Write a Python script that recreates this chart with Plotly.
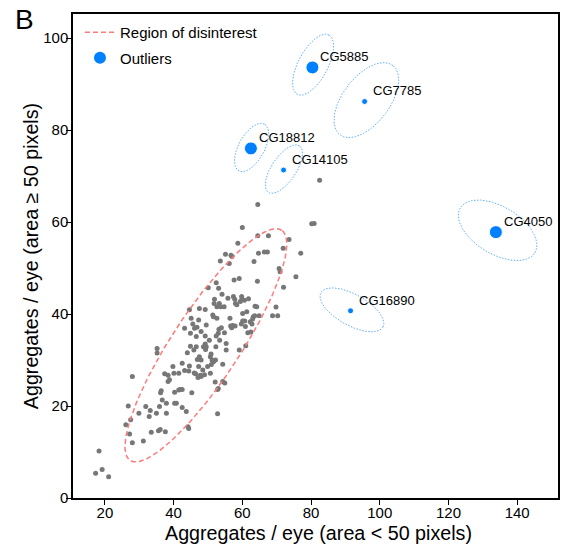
import numpy as np
import plotly.graph_objects as go

# ---- data: genes (grey) ----
gene_x = [17.3, 18.3, 19.2, 21.1, 26.1, 26.8, 27.5, 27.2, 28.0, 28.0, 29.9, 31.2, 31.9, 32.9, 33.2, 33.5,
          35.0, 35.2, 35.2, 35.6, 36.1, 35.9, 36.2, 36.4, 36.7, 37.6, 37.9, 37.9, 37.4, 38.4, 38.4, 38.8,
          39.8, 40.1, 40.3, 40.3, 40.8, 41.5, 41.5, 41.9, 42.5, 42.5, 42.5, 43.2, 43.2, 43.7, 44.0, 44.2,
          44.4, 44.4, 44.6, 44.6, 44.9, 44.9, 45.1, 45.3, 45.6, 45.9, 46.0, 46.1, 46.4, 46.6, 46.6, 46.8,
          46.9, 47.1, 47.3, 47.5, 47.5, 47.8, 48.0, 48.5, 48.7, 49.2, 49.2, 49.2, 49.5, 49.5, 49.9, 50.1,
          50.4, 50.7, 50.7, 50.9, 51.2, 51.6, 51.4, 51.0, 51.6, 51.8, 51.9, 52.1, 52.3, 52.4, 52.4, 52.6,
          52.8, 52.8, 53.0, 53.1, 53.2, 53.3, 53.4, 53.6, 53.7, 53.9, 54.1, 54.3, 54.3, 54.9, 54.7, 54.8,
          55.1, 55.3, 55.3, 55.8, 56.2, 56.4, 56.6, 56.7, 56.9, 57.0, 57.2, 57.4, 57.6, 57.8, 57.9, 58.0,
          58.4, 58.7, 59.1, 59.1, 59.4, 59.7, 59.8, 59.9, 60.0, 60.1, 60.1, 60.7, 60.9, 61.0, 61.3, 61.6,
          61.8, 62.5, 62.3, 63.0, 63.2, 63.4, 63.6, 63.7, 64.2, 64.4, 64.5, 64.5, 64.7, 64.9, 66.4, 67.3,
          67.6, 68.8, 69.8, 70.3, 70.7, 71.0, 71.9, 72.0, 73.6, 75.6, 77.0, 80.2, 80.9, 82.5,
          47.3, 52.6, 53.0, 48.0, 49.3, 52.2, 48.0, 49.0, 60.6, 62.8]
gene_y = [5.4, 10.2, 6.2, 4.6, 15.9, 20.0, 17.0, 13.9, 12.0, 26.4, 18.4, 12.4, 19.9, 17.7, 19.0, 14.3,
          18.4, 32.5, 31.5, 14.6, 14.9, 19.9, 22.9, 23.3, 21.3, 14.4, 18.4, 20.6, 27.0, 26.7, 25.3, 25.7,
          28.6, 27.1, 23.0, 20.6, 20.6, 27.1, 23.5, 23.6, 23.6, 29.3, 19.7, 27.7, 36.9, 18.8, 31.6, 15.5,
          27.6, 15.1, 28.7, 40.9, 33.0, 35.8, 39.1, 22.9, 37.8, 32.2, 27.2, 36.9, 27.0, 35.1, 32.9, 37.1,
          30.1, 26.2, 28.6, 30.7, 41.2, 26.7, 26.4, 27.8, 32.9, 35.2, 41.0, 33.5, 32.9, 37.6, 28.6, 45.7,
          34.3, 27.1, 30.7, 31.3, 30.0, 29.6, 39.8, 29.0, 39.4, 42.3, 43.2, 25.2, 32.9, 35.2, 46.8, 41.6,
          23.6, 18.3, 23.8, 45.6, 36.7, 42.3, 34.3, 51.5, 41.6, 37.0, 44.3, 29.1, 25.3, 25.0, 41.6, 35.9,
          53.0, 33.6, 32.2, 43.4, 51.0, 39.1, 37.4, 52.8, 37.0, 52.5, 37.5, 43.8, 47.4, 43.2, 37.4, 42.3,
          42.0, 55.4, 32.2, 47.7, 42.7, 37.8, 43.8, 43.2, 58.8, 40.1, 38.5, 38.5, 37.3, 33.1, 40.5, 35.9,
          43.3, 36.1, 38.3, 38.9, 39.4, 51.4, 39.6, 41.7, 41.6, 47.1, 57.0, 63.8, 53.2, 39.6, 53.5, 53.5,
          57.0, 39.6, 41.5, 39.6, 49.9, 49.2, 54.3, 45.8, 56.2, 48.1, 53.2, 59.6, 59.7, 69.1,
          38.7, 39.1, 35.8, 36.2, 32.3, 30.0, 30.0, 26.8, 43.0, 37.8]

# ---- data: outliers ----
outlier_names = ["CG5885", "CG7785", "CG18812", "CG14105", "CG4050", "CG16890"]
outlier_x = [80.4, 95.6, 62.5, 72.0, 133.8, 91.5]
outlier_y = [93.6, 86.2, 76.0, 71.3, 57.8, 40.7]
outlier_size = [13, 6, 13, 6, 13, 6]

# ---- ellipses (centre in data units, semi-axes in screen px, angle in degrees) ----
ell_cx = [80.6, 96.1, 62.7, 72.1, 134.3, 91.9]
ell_cy = [94.2, 86.5, 76.2, 71.5, 58.2, 40.9]
ell_a = [33.7, 43.7, 26.7, 28.0, 43.7, 35.6]
ell_b = [14.9, 23.5, 13.0, 12.4, 23.8, 15.6]
ell_ang = [61.7, 52.5, 61.1, 56.0, -30.7, -29.0]

region_cx, region_cy, region_a, region_b, region_ang = 49.4, 33.2, 138.0, 34.0, 56.5

x_ticks = [20, 40, 60, 80, 100, 120, 140]
y_ticks = [0, 20, 40, 60, 80, 100]

x_title = "Aggregates / eye (area < 50 pixels)"
y_title = "Aggregates / eye (area ≥ 50 pixels)"

# ---- layout geometry ----
W, H = 568, 550
ML, MR, MT, MB = 73, 8, 14, 52
PW, PH = W - ML - MR, H - MT - MB
x_range = [10.72, 151.88]
y_range = [0.0, 105.22]
SX = PW / (x_range[1] - x_range[0])
SY = PH / (y_range[1] - y_range[0])


def px_to_paper_x(px):
    return (px - ML) / PW


def px_to_paper_y(py):
    return (MT + PH - py) / PH


def ellipse(cx, cy, a, b, ang, n=200):
    t = np.linspace(0, 2 * np.pi, n)
    th = np.deg2rad(ang)
    dx = a * np.cos(t) * np.cos(th) - b * np.sin(t) * np.sin(th)
    dy = a * np.cos(t) * np.sin(th) + b * np.sin(t) * np.cos(th)
    return cx + dx / SX, cy + dy / SY


BLUE = "#0080ff"
GREY = "#777777"
RED = "#ff7a7a"
LBLUE = "#5fb0ff"
FONT = "Liberation Sans, Arial, sans-serif"

fig = go.Figure()

fig.add_trace(go.Scatter(x=gene_x, y=gene_y, mode="markers",
                         marker=dict(color=GREY, size=5), showlegend=False, hoverinfo="skip"))

rx, ry = ellipse(region_cx, region_cy, region_a, region_b, region_ang)
fig.add_trace(go.Scatter(x=rx, y=ry, mode="lines", name="Region of disinterest",
                         line=dict(color=RED, width=1.5, dash="5px,3px"), legendgroup="a"))

for i in range(len(ell_cx)):
    ex, ey = ellipse(ell_cx[i], ell_cy[i], ell_a[i], ell_b[i], ell_ang[i])
    fig.add_trace(go.Scatter(x=ex, y=ey, mode="lines", showlegend=False,
                             line=dict(color=LBLUE, width=1, dash="1.5px,1.5px"), hoverinfo="skip"))

fig.add_trace(go.Scatter(x=outlier_x, y=outlier_y, mode="markers", showlegend=False,
                         marker=dict(color=BLUE, size=outlier_size, opacity=1), text=outlier_names))
fig.add_trace(go.Scatter(x=[None], y=[None], mode="markers", name="Outliers",
                         marker=dict(color=BLUE, size=12, opacity=1), legendgroup="b"))

for n, xv, yv in zip(outlier_names, outlier_x, outlier_y):
    fig.add_annotation(x=xv, y=yv, text=n, showarrow=False, xanchor="left", yanchor="middle",
                       xshift=6, yshift=10.5, font=dict(size=13, color="black", family=FONT))

# panel letter
fig.add_annotation(xref="paper", yref="paper", x=px_to_paper_x(13), y=px_to_paper_y(19),
                   text="B", showarrow=False, xanchor="left", yanchor="middle",
                   font=dict(size=28, color="black", family=FONT))
# axis titles
fig.add_annotation(xref="paper", yref="paper", x=px_to_paper_x(320), y=px_to_paper_y(533),
                   text=x_title, showarrow=False, xanchor="center", yanchor="middle",
                   font=dict(size=19.7, color="black", family=FONT))
fig.add_annotation(xref="paper", yref="paper", x=px_to_paper_x(31), y=0.5, textangle=-90,
                   text=y_title, showarrow=False, xanchor="center", yanchor="middle",
                   font=dict(size=19.7, color="black", family=FONT))

axis_common = dict(showgrid=False, zeroline=False, showline=True, linecolor="black", linewidth=1.5,
                   mirror=True, ticks="outside", ticklen=5, tickwidth=1.2, tickcolor="black",
                   ticklabelstandoff=-5,
                   tickfont=dict(size=15, color="black", family=FONT))

fig.update_layout(
    width=W, height=H,
    margin=dict(l=ML, r=MR, t=MT, b=MB),
    paper_bgcolor="white", plot_bgcolor="white",
    font=dict(family=FONT, color="black"),
    xaxis=dict(range=x_range, tickvals=x_ticks, **axis_common),
    yaxis=dict(range=y_range, tickvals=y_ticks, **axis_common),
    legend=dict(x=px_to_paper_x(80), y=0.996, xanchor="left", yanchor="top", bgcolor="rgba(0,0,0,0)",
                font=dict(size=15, family=FONT), tracegroupgap=3, itemwidth=30),
    showlegend=True,
)

fig.write_html("out.html")
